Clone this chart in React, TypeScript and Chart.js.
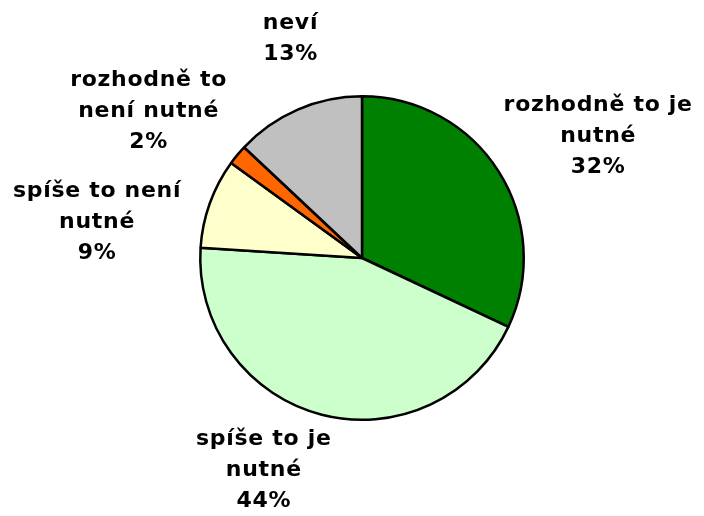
import React, { useEffect, useRef } from "react";
import { Chart, registerables } from "chart.js";

Chart.register(...registerables);

const categories = [
  "rozhodně to je\nnutné",
  "spíše to je\nnutné",
  "spíše to není\nnutné",
  "rozhodně to\nnení nutné",
  "neví",
];
const values = [32, 44, 9, 2, 13];
const colors = ["#008000", "#CCFFCC", "#FFFFCC", "#FF6600", "#C0C0C0"];
// label block centre, relative to the pie centre, in units of the radius
const labelOffsets: [number, number][] = [
  [1.46, -0.755],
  [-0.607, 1.313],
  [-1.638, -0.221],
  [-1.319, -0.908],
  [-0.442, -1.356],
];

const labelPlugin = {
  id: "outsideLabels",
  afterDraw(chart: any) {
    const ctx = chart.ctx;
    const meta = chart.getDatasetMeta(0);
    const data = chart.data.datasets[0].data as number[];
    const total = data.reduce((a, b) => a + b, 0);
    ctx.save();
    ctx.font = "bold 22px 'DejaVu Sans', Verdana, sans-serif";
    (ctx as any).letterSpacing = "0.7px";
    ctx.fillStyle = "#000";
    ctx.textAlign = "center";
    ctx.textBaseline = "middle";
    const lh = 31;
    meta.data.forEach((arc: any, i: number) => {
      const r = arc.outerRadius;
      const cx = arc.x + labelOffsets[i][0] * r;
      const cy = arc.y + labelOffsets[i][1] * r;
      const lines = String(chart.data.labels[i]).split("\n");
      lines.push(Math.round((data[i] / total) * 100) + "%");
      const y0 = cy - ((lines.length - 1) * lh) / 2;
      lines.forEach((l, k) => ctx.fillText(l, cx, y0 + k * lh));
    });
    ctx.restore();
  },
};

export default function App() {
  const ref = useRef<HTMLCanvasElement>(null);
  useEffect(() => {
    const chart = new Chart(ref.current!, {
      type: "pie",
      data: {
        labels: categories,
        datasets: [
          {
            data: values,
            backgroundColor: colors,
            borderColor: "#000",
            borderWidth: 2.5,
            borderAlign: "center",
          },
        ],
      },
      options: {
        animation: false,
        responsive: false,
        layout: { padding: { left: 199, right: 179, top: 95, bottom: 95 } },
        plugins: { legend: { display: false }, tooltip: { enabled: false } },
      },
      plugins: [labelPlugin],
    });
    return () => chart.destroy();
  }, []);
  return (
    <div style={{ position: "fixed", left: 0, top: 0, width: 704, height: 516, background: "#fff" }}>
      <canvas ref={ref} width={704} height={516} />
    </div>
  );
}
